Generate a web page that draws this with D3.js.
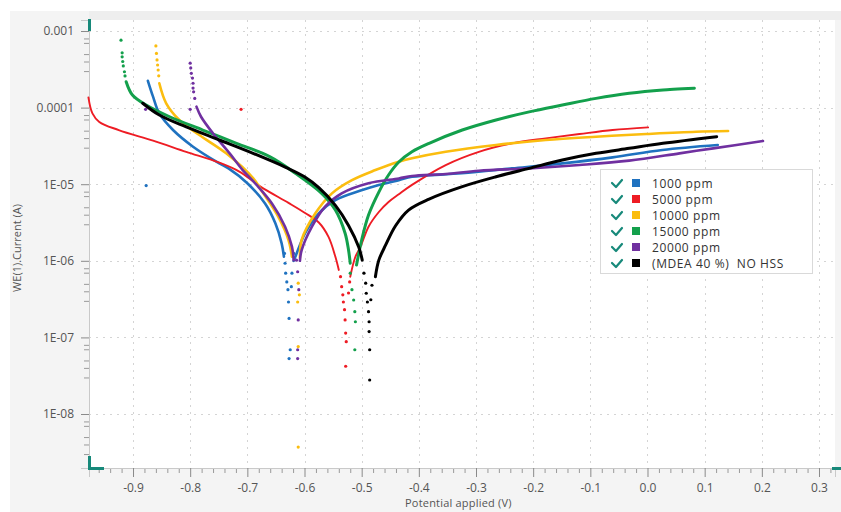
<!DOCTYPE html>
<html>
<head>
<meta charset="utf-8">
<script src="https://cdn.jsdelivr.net/npm/d3@7"></script>
<style>
  body { margin: 0; background: #ffffff; }
  svg { display: block; font-family: "Open Sans", "Noto Sans", sans-serif; }
</style>
</head>
<body>
<svg id="chart" width="841" height="512"></svg>
<script>
// ---- Series names and colours ----
const seriesNames = ["1000 ppm", "5000 ppm", "10000 ppm", "15000 ppm", "20000 ppm", "(MDEA 40 %)  NO HSS"];
const seriesColors = ["#1f72c0", "#ee1c24", "#fbbd0f", "#13a04c", "#7030a0", "#000000"];

// ---- Tick values and labels ----
const xTickValues = [-0.9, -0.8, -0.7, -0.6, -0.5, -0.4, -0.3, -0.2, -0.1, 0.0, 0.1, 0.2, 0.3];
const xTickLabels = ["-0.9", "-0.8", "-0.7", "-0.6", "-0.5", "-0.4", "-0.3", "-0.2", "-0.1", "0.0", "0.1", "0.2", "0.3"];
const yTickValues = [1e-3, 1e-4, 1e-5, 1e-6, 1e-7, 1e-8];
const yTickLabels = ["0.001", "0.0001", "1E-05", "1E-06", "1E-07", "1E-08"];

// ---- Polarisation data: [potential (V), current (A)] ----
// 1000 ppm
const ppm1000Cathodic = [[-0.874,2.24e-4],[-0.865,1.39e-4],[-0.854,8.4e-5],[-0.830,5.1e-5],[-0.795,3.09e-5],[-0.749,1.87e-5],[-0.733,1.61e-5],[-0.700,1.03e-5],[-0.669,5.6e-6],[-0.651,3.09e-6],[-0.640,1.69e-6],[-0.636,1.13e-6]];
const ppm1000Dip = [[-0.635,1.25e-6],[-0.634,9.3e-7],[-0.633,6.9e-7],[-0.631,5.3e-7],[-0.629,4.2e-7],[-0.628,2.9e-7],[-0.627,1.77e-7],[-0.625,6.9e-8],[-0.627,5.3e-8],[-0.619,1.25e-6],[-0.622,6.9e-7],[-0.623,4.6e-7],[-0.877,9.6e-6]];
const ppm1000Anodic = [[-0.619,1.0e-6],[-0.616,1.13e-6],[-0.599,2.29e-6],[-0.575,4.17e-6],[-0.546,6.2e-6],[-0.499,8.4e-6],[-0.470,9.8e-6],[-0.435,1.13e-5],[-0.412,1.25e-5],[-0.325,1.39e-5],[-0.237,1.61e-5],[-0.149,1.87e-5],[-0.061,2.24e-5],[0.026,2.8e-5],[0.123,3.25e-5]];

// 5000 ppm
const ppm5000Cathodic = [[-0.978,1.36e-4],[-0.971,8.4e-5],[-0.959,6.5e-5],[-0.925,5.1e-5],[-0.865,3.7e-5],[-0.807,2.65e-5],[-0.749,1.91e-5],[-0.714,1.46e-5],[-0.677,9.3e-6],[-0.628,5.7e-6],[-0.599,4.21e-6],[-0.575,3.16e-6],[-0.558,2.05e-6],[-0.546,1.13e-6],[-0.540,7.6e-7]];
const ppm5000Dip = [[-0.537,6.2e-7],[-0.535,4.6e-7],[-0.533,3.6e-7],[-0.532,2.9e-7],[-0.530,2.3e-7],[-0.529,1.69e-7],[-0.528,1.14e-7],[-0.527,8.8e-8],[-0.528,4.2e-8],[-0.521,5.3e-7],[-0.523,3.8e-7],[-0.711,9.5e-5]];
const ppm5000Anodic = [[-0.520,6.2e-7],[-0.511,1.13e-6],[-0.502,1.53e-6],[-0.488,2.79e-6],[-0.470,4.34e-6],[-0.453,5.86e-6],[-0.435,7.4e-6],[-0.412,9.8e-6],[-0.353,1.78e-5],[-0.295,2.65e-5],[-0.237,3.42e-5],[-0.178,3.97e-5],[-0.119,4.52e-5],[-0.061,5.1e-5],[0.001,5.53e-5]];

// 10000 ppm
const ppm10000Cathodic = [[-0.854,2.08e-4],[-0.842,1.14e-4],[-0.819,6.9e-5],[-0.784,4.39e-5],[-0.737,2.53e-5],[-0.690,1.2e-5],[-0.675,8.2e-6],[-0.646,3.77e-6],[-0.628,1.87e-6],[-0.622,1.13e-6]];
const ppm10000Dip = [[-0.860,6.4e-4],[-0.859,5.1e-4],[-0.858,4.2e-4],[-0.857,3.6e-4],[-0.856,3.1e-4],[-0.855,2.6e-4],[-0.611,5.1e-7],[-0.609,3.6e-7],[-0.612,2.9e-7],[-0.611,7.6e-8],[-0.611,3.7e-9]];
const ppm10000Anodic = [[-0.608,1.1e-6],[-0.605,1.87e-6],[-0.581,4.17e-6],[-0.552,7.6e-6],[-0.517,1.13e-5],[-0.476,1.53e-5],[-0.435,1.97e-5],[-0.412,2.18e-5],[-0.353,2.65e-5],[-0.265,3.25e-5],[-0.178,3.78e-5],[-0.090,4.17e-5],[-0.002,4.52e-5],[0.085,4.84e-5],[0.141,4.95e-5]];

// 15000 ppm
const ppm15000Cathodic = [[-0.912,2.18e-4],[-0.901,1.46e-4],[-0.877,1.08e-4],[-0.836,7.6e-5],[-0.778,5.1e-5],[-0.719,3.42e-5],[-0.661,2.29e-5],[-0.616,1.39e-5],[-0.570,7.6e-6],[-0.546,4.6e-6],[-0.529,2.29e-6],[-0.523,1.38e-6],[-0.520,9.3e-7]];
const ppm15000Dip = [[-0.921,7.6e-4],[-0.919,5.2e-4],[-0.919,4.6e-4],[-0.918,4.0e-4],[-0.917,3.5e-4],[-0.915,2.94e-4],[-0.914,2.59e-4],[-0.520,6.9e-7],[-0.517,4.2e-7],[-0.514,3.08e-7],[-0.512,2.17e-7],[-0.511,1.6e-7],[-0.512,6.9e-8]];
const ppm15000Anodic = [[-0.509,8.8e-7],[-0.500,1.87e-6],[-0.488,3.96e-6],[-0.470,7.9e-6],[-0.453,1.32e-5],[-0.435,1.95e-5],[-0.412,2.65e-5],[-0.382,3.42e-5],[-0.324,5.1e-5],[-0.265,6.9e-5],[-0.207,8.8e-5],[-0.149,1.08e-4],[-0.090,1.32e-4],[-0.032,1.54e-4],[0.027,1.70e-4],[0.082,1.79e-4]];

// 20000 ppm
const ppm20000Cathodic = [[-0.789,1.03e-4],[-0.781,7.6e-5],[-0.760,4.6e-5],[-0.731,2.53e-5],[-0.708,1.53e-5],[-0.685,1.0e-5],[-0.657,5.6e-6],[-0.634,2.79e-6],[-0.622,1.53e-6],[-0.619,1.02e-6]];
const ppm20000Dip = [[-0.800,3.8e-4],[-0.799,3.3e-4],[-0.798,2.8e-4],[-0.796,2.43e-4],[-0.795,2.08e-4],[-0.795,1.8e-4],[-0.794,1.61e-4],[-0.792,1.32e-4],[-0.614,1.02e-6],[-0.612,7.2e-7],[-0.610,4.2e-7],[-0.611,1.69e-7],[-0.612,6.9e-8],[-0.612,5.3e-8],[-0.878,9.5e-5],[-0.800,9.5e-5]];
const ppm20000Anodic = [[-0.608,1.0e-6],[-0.605,1.38e-6],[-0.587,2.79e-6],[-0.564,5.1e-6],[-0.535,7.6e-6],[-0.488,1.03e-5],[-0.435,1.19e-5],[-0.412,1.28e-5],[-0.353,1.36e-5],[-0.295,1.5e-5],[-0.207,1.61e-5],[-0.119,1.78e-5],[-0.032,2.03e-5],[0.056,2.53e-5],[0.115,2.94e-5],[0.202,3.66e-5]];

// MDEA 40 % without heat-stable salts
const noHssCathodic = [[-0.883,1.14e-4],[-0.854,8.0e-5],[-0.807,5.6e-5],[-0.749,3.78e-5],[-0.690,2.53e-5],[-0.632,1.65e-5],[-0.600,1.25e-5],[-0.575,9.0e-6],[-0.546,5.3e-6],[-0.523,2.9e-6],[-0.505,1.5e-6],[-0.499,1.02e-6]];
const noHssDip = [[-0.496,6.9e-7],[-0.493,5.1e-7],[-0.492,3.77e-7],[-0.490,2.9e-7],[-0.488,2.17e-7],[-0.487,1.6e-7],[-0.487,1.19e-7],[-0.486,6.9e-8],[-0.486,2.78e-8],[-0.482,4.8e-7],[-0.484,3.1e-7]];
const noHssAnodic = [[-0.476,6.2e-7],[-0.470,1.02e-6],[-0.458,1.61e-6],[-0.441,2.85e-6],[-0.418,4.6e-6],[-0.382,6.4e-6],[-0.324,9.3e-6],[-0.265,1.25e-5],[-0.207,1.61e-5],[-0.149,2.07e-5],[-0.090,2.53e-5],[-0.032,2.94e-5],[0.027,3.42e-5],[0.121,4.17e-5]];

const seriesData = [
  { cathodic: ppm1000Cathodic,  dots: ppm1000Dip,  anodic: ppm1000Anodic,  width: 2.6 },
  { cathodic: ppm5000Cathodic,  dots: ppm5000Dip,  anodic: ppm5000Anodic,  width: 1.9 },
  { cathodic: ppm10000Cathodic, dots: ppm10000Dip, anodic: ppm10000Anodic, width: 2.6 },
  { cathodic: ppm15000Cathodic, dots: ppm15000Dip, anodic: ppm15000Anodic, width: 3.0 },
  { cathodic: ppm20000Cathodic, dots: ppm20000Dip, anodic: ppm20000Anodic, width: 2.6 },
  { cathodic: noHssCathodic,    dots: noHssDip,    anodic: noHssAnodic,    width: 3.0 }
];

// ---- Layout ----
const svg = d3.select("#chart");
const plot = { left: 89, right: 835, top: 20, bottom: 468 };
const teal = "#17897a";

// outer panel
svg.append("rect").attr("x", 10).attr("y", 11).attr("width", 831).attr("height", 501).attr("fill", "#f4f4f4");
svg.append("rect").attr("x", 89).attr("y", 11).attr("width", 752).attr("height", 9).attr("fill", "#eeeeee");
svg.append("rect").attr("x", plot.left).attr("y", plot.top)
  .attr("width", plot.right - plot.left).attr("height", plot.bottom - plot.top).attr("fill", "#ffffff");

const x = d3.scaleLinear().domain([-0.977, 0.328]).range([plot.left, plot.right]);
const y = d3.scaleLog().domain([Math.pow(10, -8.705), Math.pow(10, -2.856)]).range([plot.bottom, plot.top]);

// ---- Grid ----
const grid = svg.append("g").attr("stroke", "#d4d4d4").attr("stroke-width", 1).attr("stroke-dasharray", "2,5");
grid.selectAll(".gx").data(xTickValues).join("line")
  .attr("x1", d => Math.round(x(d)) + 0.5).attr("x2", d => Math.round(x(d)) + 0.5)
  .attr("y1", plot.top).attr("y2", plot.bottom);
grid.selectAll(".gy").data(yTickValues).join("line")
  .attr("x1", plot.left).attr("x2", plot.right)
  .attr("y1", d => Math.round(y(d)) + 0.5).attr("y2", d => Math.round(y(d)) + 0.5);

// ---- Axes ----
const yMinor = [];
yTickValues.forEach(v => [0.8, 0.7, 0.5, 0.4, 0.3].forEach(k => { if (v * k >= y.domain()[0]) yMinor.push(v * k); }));
const yAxis = d3.axisLeft(y).tickValues(yTickValues).tickSize(8).tickPadding(7)
  .tickFormat((d, i) => yTickLabels[i]);
const yAxisMinor = d3.axisLeft(y).tickValues(yMinor).tickSize(5).tickFormat("");
const gyMinor = svg.append("g").attr("transform", `translate(${plot.left},0)`).call(yAxisMinor);
const gy = svg.append("g").attr("transform", `translate(${plot.left},0)`).call(yAxis);

const xMinor = d3.range(-0.96, 0.33, 0.02).filter(v => Math.abs(Math.round(v * 10) - v * 10) > 0.05);
const xAxis = d3.axisBottom(x).tickValues(xTickValues).tickSize(9).tickPadding(6)
  .tickFormat((d, i) => xTickLabels[i]);
const xAxisMinor = d3.axisBottom(x).tickValues(xMinor).tickSize(5).tickFormat("");
const gxMinor = svg.append("g").attr("transform", `translate(0,${plot.bottom})`).call(xAxisMinor);
const gx = svg.append("g").attr("transform", `translate(0,${plot.bottom})`).call(xAxis);

[gy, gyMinor, gx, gxMinor].forEach(g => {
  g.select(".domain").attr("stroke", "#c9c9c9");
  g.selectAll(".tick line").attr("stroke", "#8a8a8a");
  g.selectAll(".tick text").attr("fill", "#555555").style("font-size", "12px")
    .style("font-family", "\"Open Sans\", sans-serif");
});
gyMinor.selectAll(".tick line").attr("stroke", "#9a9a9a");
gxMinor.selectAll(".tick line").attr("stroke", "#9a9a9a");

// axis titles
svg.append("text").attr("x", 405).attr("y", 507).attr("fill", "#555555")
  .style("font-size", "11px").style("letter-spacing", "0.2px").text("Potential applied (V)");
svg.append("text").attr("transform", "translate(21,248) rotate(-90)").attr("text-anchor", "middle")
  .attr("fill", "#555555").style("font-size", "11px").text("WE(1).Current (A)");

// range handles
svg.append("rect").attr("x", 88).attr("y", 19).attr("width", 3).attr("height", 12).attr("fill", teal);
svg.append("path").attr("d", "M89.5,456 V468.5 H104").attr("fill", "none").attr("stroke", teal).attr("stroke-width", 3);
svg.append("rect").attr("x", 832).attr("y", 467).attr("width", 9).attr("height", 3).attr("fill", teal);

// ---- Curves ----
const line = d3.line().x(d => x(d[0])).y(d => y(d[1])).curve(d3.curveCatmullRom.alpha(0.5));
const curves = svg.append("g");
seriesData.forEach((s, i) => {
  const g = curves.append("g");
  [s.cathodic, s.anodic].forEach(arr => {
    g.append("path").datum(arr).attr("d", line)
      .attr("fill", "none").attr("stroke", seriesColors[i])
      .attr("stroke-width", s.width).attr("stroke-linecap", "round").attr("stroke-linejoin", "round");
  });
  g.selectAll("circle").data(s.dots).join("circle")
    .attr("cx", d => x(d[0])).attr("cy", d => y(d[1])).attr("r", 1.6)
    .attr("fill", seriesColors[i]);
});

// ---- Legend ----
const legend = svg.append("g").attr("transform", "translate(600,169)");
legend.append("rect").attr("x", 0.5).attr("y", 0.5).attr("width", 212).attr("height", 104)
  .attr("fill", "#ffffff").attr("stroke", "#d9d9d9");
seriesNames.forEach((name, i) => {
  const row = legend.append("g").attr("transform", `translate(0,${14 + i * 16})`);
  row.append("path").attr("d", "M12,0 L16,4 L22,-3").attr("fill", "none")
    .attr("stroke", teal).attr("stroke-width", 2.2).attr("stroke-linecap", "round").attr("stroke-linejoin", "round");
  row.append("rect").attr("x", 32).attr("y", -4).attr("width", 8).attr("height", 8).attr("fill", seriesColors[i]);
  row.append("text").attr("x", 52).attr("y", 4.5).attr("fill", "#333333")
    .style("font-size", "12px").style("letter-spacing", "0.6px").style("white-space", "pre").text(name);
});
</script>
</body>
</html>
